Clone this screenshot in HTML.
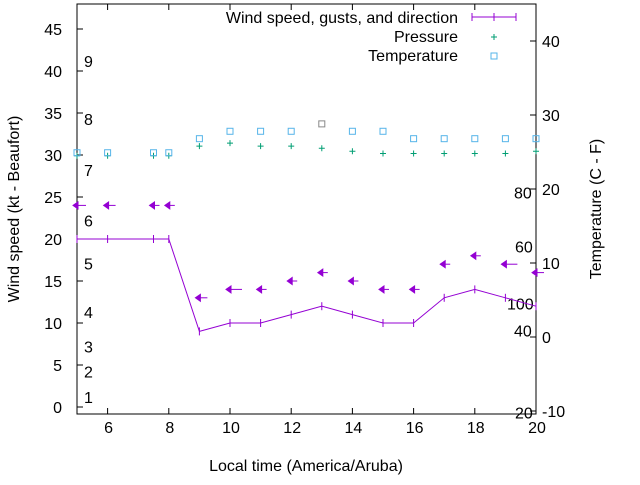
<!DOCTYPE html>
<html><head><meta charset="utf-8"><style>
body{margin:0;background:#fff}
svg text{font-family:"Liberation Sans",sans-serif;font-size:16px;fill:#000}
</style></head><body>
<svg width="640" height="480" id="c"></svg>
<script>
const hours=[5,6,7.5,8,9,10,11,12,13,14,15,16,17,18,19,20];
const wind=[20,20,20,20,9,10,10,11,12,11,10,10,13,14,13,12];
const gusts=[24,24,24,24,13,14,14,15,16,15,14,14,17,18,17,16];
const arrowLen=[9,8,6,6,8,12,6,6,6,6,6,6,6,6,12,8];
const pressure=[24.5,24.5,24.5,24.5,25.8,26.2,25.8,25.8,25.5,25.1,24.8,24.8,24.8,24.8,24.8,25.1];
const temperature=[24.9,24.9,24.9,24.9,26.8,27.8,27.8,27.8,28.8,27.8,27.8,26.8,26.8,26.8,26.8,26.8];
const xTicks=[6,8,10,12,14,16,18,20];
const yTicks=[0,5,10,15,20,25,30,35,40,45];
const y2Ticks=[-10,0,10,20,30,40];
const beaufort=[[1,1.2],[2,4.2],[3,7.2],[4,11.3],[5,17.1],[6,22.2],[7,28.2],[8,34.3],[9,41.2]];
const pLabels=[["100",507,4.5],["80",514,19.5],["60",515,12.2],["40",514,0.9],["20",515,-10.2]];
const L=77,R=536,T=4,B=414;
const x=h=>L+(h-5)*(R-L)/15;
const y=v=>407-v*8.4;
const y2=v=>337-v*7.4;
const s=document.getElementById('c');const NS='http://www.w3.org/2000/svg';
function el(t,a,txt){const e=document.createElementNS(NS,t);for(const k in a)e.setAttribute(k,a[k]);if(txt!==undefined)e.textContent=txt;s.appendChild(e);return e;}
let e;
e=el('rect',{x:L,y:T,width:R-L,height:B-T,fill:'none',stroke:'#000','stroke-width':1});


xTicks.forEach(t=>{
e=el('path',{d:`M${x(t)} ${B}v-6M${x(t)} ${T}v6`,stroke:'#000'});


e=el('text',{x:x(t)+1,y:B+19,'text-anchor':'middle'},t);


});
yTicks.forEach(t=>{
e=el('path',{d:`M${L} ${y(t)}h6`,stroke:'#000'});


e=el('text',{x:L-15,y:y(t)+6,'text-anchor':'end'},t);


});
y2Ticks.forEach(t=>{
e=el('path',{d:`M${R} ${y2(t)}h-6`,stroke:'#000'});


e=el('text',{x:R+6,y:y2(t)+6},t);


});
beaufort.forEach(b=>{
e=el('text',{x:84,y:y(b[1])+6},b[0]);


});
pLabels.forEach(p=>{
e=el('text',{x:p[1],y:y2(p[2])+6},p[0]);


});
e=el('polyline',{points:hours.map((h,i)=>x(h)+','+y(wind[i])).join(' '),fill:'none',stroke:'#9400d3','stroke-width':1});


hours.forEach((h,i)=>{
e=el('path',{d:`M${x(h)} ${y(wind[i])-4}v8`,stroke:'#9400d3'});


const gx=x(h),gy=y(gusts[i]);
e=el('path',{d:`M${gx-4} ${gy}l5 -3.5v7z`,stroke:'#9400d3',fill:'#9400d3','stroke-width':1});


e=el('path',{d:`M${gx} ${gy}h${arrowLen[i]}`,stroke:'#9400d3','stroke-width':1});


e=el('path',{d:`M${x(h)-3} ${y2(pressure[i])}h6M${x(h)} ${y2(pressure[i])-3}v6`,stroke:'#009e73'});


e=el('rect',{x:x(h)-3,y:y2(temperature[i])-3,width:6,height:6,fill:'none',stroke:h===13?'#888':'#56b4e9'});


});
e=el('text',{x:458,y:23,'text-anchor':'end'},'Wind speed, gusts, and direction');


e=el('path',{d:'M472 17h44M472 13v8M494 13v8M516 13v8',stroke:'#9400d3'});


e=el('text',{x:458,y:42,'text-anchor':'end'},'Pressure');


e=el('path',{d:'M491 37h6M494 34v6',stroke:'#009e73'});


e=el('text',{x:458,y:61,'text-anchor':'end'},'Temperature');


e=el('rect',{x:491,y:53,width:6,height:6,fill:'none',stroke:'#56b4e9'});


e=el('text',{x:306,y:471,'text-anchor':'middle'},'Local time (America/Aruba)');


e=el('text',{x:0,y:0,'text-anchor':'middle',transform:'translate(19,209) rotate(-90)'},'Wind speed (kt - Beaufort)');


e=el('text',{x:0,y:0,'text-anchor':'middle',transform:'translate(601,209) rotate(-90)'},'Temperature (C - F)');


</script>
</body></html>
